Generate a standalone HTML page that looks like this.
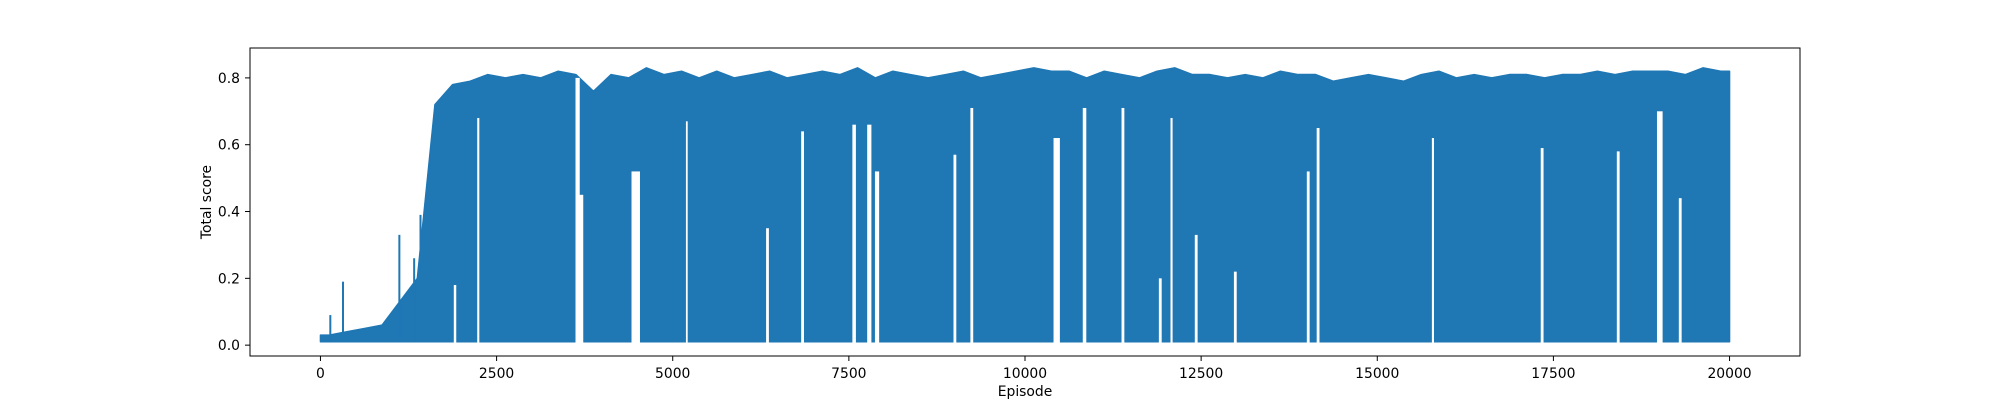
<!DOCTYPE html>
<html><head><meta charset="utf-8">
<style>
html,body{margin:0;padding:0;background:#fff;}
svg{display:block;font-family:"DejaVu Sans","Liberation Sans",sans-serif;}
</style></head>
<body>
<svg id="chart" width="2000" height="400" viewBox="0 0 2000 400" xmlns="http://www.w3.org/2000/svg">
<rect width="2000" height="400" fill="#fff"/>
<g id="plot"></g>
<g id="axes"></g>
<text x="1025" y="396" font-size="13.9" text-anchor="middle">Episode</text>
<text transform="translate(211,202) rotate(-90)" font-size="13.9" text-anchor="middle">Total score</text>
</svg>
<script>
// bin start episodes (250-episode bins)
const binStarts = [0,250,500,750,1000,1250,1500,1750,2000,2250,2500,2750,3000,3250,3500,3750,4000,4250,4500,4750,5000,5250,5500,5750,6000,6250,6500,6750,7000,7250,7500,7750,8000,8250,8500,8750,9000,9250,9500,9750,10000,10250,10500,10750,11000,11250,11500,11750,12000,12250,12500,12750,13000,13250,13500,13750,14000,14250,14500,14750,15000,15250,15500,15750,16000,16250,16500,16750,17000,17250,17500,17750,18000,18250,18500,18750,19000,19250,19500,19750];
// per-bin typical max score
const binMax = [0.03,0.04,0.05,0.06,0.13,0.20,0.72,0.78,0.79,0.81,0.80,0.81,0.80,0.82,0.81,0.76,0.81,0.80,0.83,0.81,0.82,0.80,0.82,0.80,0.81,0.82,0.80,0.81,0.82,0.81,0.83,0.80,0.82,0.81,0.80,0.81,0.82,0.80,0.81,0.82,0.83,0.82,0.82,0.80,0.82,0.81,0.80,0.82,0.83,0.81,0.81,0.80,0.81,0.80,0.82,0.81,0.81,0.79,0.80,0.81,0.80,0.79,0.81,0.82,0.80,0.81,0.80,0.81,0.81,0.80,0.81,0.81,0.82,0.81,0.82,0.82,0.82,0.81,0.83,0.82];
// per-bin min score
const binMin = [0.01,0.01,0.01,0.01,0.01,0.01,0.01,0.01,0.01,0.01,0.01,0.01,0.01,0.01,0.01,0.01,0.01,0.01,0.01,0.01,0.01,0.01,0.01,0.01,0.01,0.01,0.01,0.01,0.01,0.01,0.01,0.01,0.01,0.01,0.01,0.01,0.01,0.01,0.01,0.01,0.01,0.01,0.01,0.01,0.01,0.01,0.01,0.01,0.01,0.01,0.01,0.01,0.01,0.01,0.01,0.01,0.01,0.01,0.01,0.01,0.01,0.01,0.01,0.01,0.01,0.01,0.01,0.01,0.01,0.01,0.01,0.01,0.01,0.01,0.01,0.01,0.01,0.01,0.01,0.01];
// isolated early spikes
const spikeEpisodes = [140,320,1120,1330,1420];
const spikeValues = [0.09,0.19,0.33,0.26,0.39];
// stretches where score stayed high: episode, width (episodes), lowest score in stretch
const gapEpisodes = [1910,2240,3650,3700,4475,5200,6345,6843,7575,7790,7900,9005,9245,10450,10845,11390,11920,12080,12430,12985,14020,14160,15790,17340,18420,19010,19300];
const gapWidths   = [35,30,60,60,120,25,40,40,50,60,60,40,40,90,50,40,40,30,40,40,40,40,30,40,40,80,40];
const gapLevels   = [0.18,0.68,0.80,0.45,0.52,0.67,0.35,0.64,0.66,0.66,0.52,0.57,0.71,0.62,0.71,0.71,0.20,0.68,0.33,0.22,0.52,0.65,0.62,0.59,0.58,0.70,0.44];
const xTicks = [0,2500,5000,7500,10000,12500,15000,17500,20000];
const yTicks = [0.0,0.2,0.4,0.6,0.8];
const binSize = 250;

const L=250,R=1800,T=48,B=356;
const xMin=-1000,xMax=21000,yMin=-0.0325,yMax=0.8895;
const X=v=>L+(v-xMin)/(xMax-xMin)*(R-L);
const Y=v=>B-(v-yMin)/(yMax-yMin)*(B-T);
const NS="http://www.w3.org/2000/svg";
const plotG=document.getElementById('plot'), axesG=document.getElementById('axes');
function mk(tag,attrs,parent){const e=document.createElementNS(NS,tag);for(const k in attrs)e.setAttribute(k,attrs[k]);parent.appendChild(e);return e;}

// envelope
const upperPts=[X(0)+','+Y(binMax[0])], lowerPts=[];
binStarts.forEach((s,i)=>{
  upperPts.push(X(s+binSize/2)+','+Y(binMax[i]));
  lowerPts.push(X(s)+','+Y(binMin[i]), X(s+binSize)+','+Y(binMin[i]));
});
const last=binStarts.length-1;
upperPts.push(X(binStarts[last]+binSize)+','+Y(binMax[last]));
lowerPts.reverse();
const env=mk('polygon',{points:upperPts.concat(lowerPts).join(' '),fill:'#1f77b4',stroke:'#1f77b4','stroke-width':1.5,'stroke-linejoin':'round'},plotG);


// spikes
spikeEpisodes.forEach((e,i)=>{
  const x=X(e);
  const l=mk('line',{x1:x,x2:x,y1:Y(0.01),y2:Y(spikeValues[i]),stroke:'#1f77b4','stroke-width':2},plotG);
  
  
});
// gaps
gapEpisodes.forEach((g,i)=>{
  const x0=X(g-gapWidths[i]/2), x1=X(g+gapWidths[i]/2);
  const r=mk('rect',{x:x0,y:Y(gapLevels[i]),width:Math.max(1.5,x1-x0),height:Y(0.0)-Y(gapLevels[i])+6,fill:'#fff'},plotG);
  
  
});
// frame
const fr=mk('rect',{x:L,y:T,width:R-L,height:B-T,fill:'none',stroke:'#000','stroke-width':1},axesG);


xTicks.forEach(t=>{
  const x=X(t);
  const l=mk('line',{x1:x,x2:x,y1:B,y2:B+5,stroke:'#000','stroke-width':1},axesG);
  
  
  const tx=mk('text',{x:x,y:378,'font-size':13.9,'text-anchor':'middle'},axesG);
  tx.textContent=String(t);
  
  
});
yTicks.forEach(t=>{
  const y=Y(t);
  const l=mk('line',{x1:L-5,x2:L,y1:y,y2:y,stroke:'#000','stroke-width':1},axesG);
  
  
  const tx=mk('text',{x:240,y:y+5,'font-size':13.9,'text-anchor':'end'},axesG);
  tx.textContent=t.toFixed(1);
  
  
});
</script>
</body></html>
